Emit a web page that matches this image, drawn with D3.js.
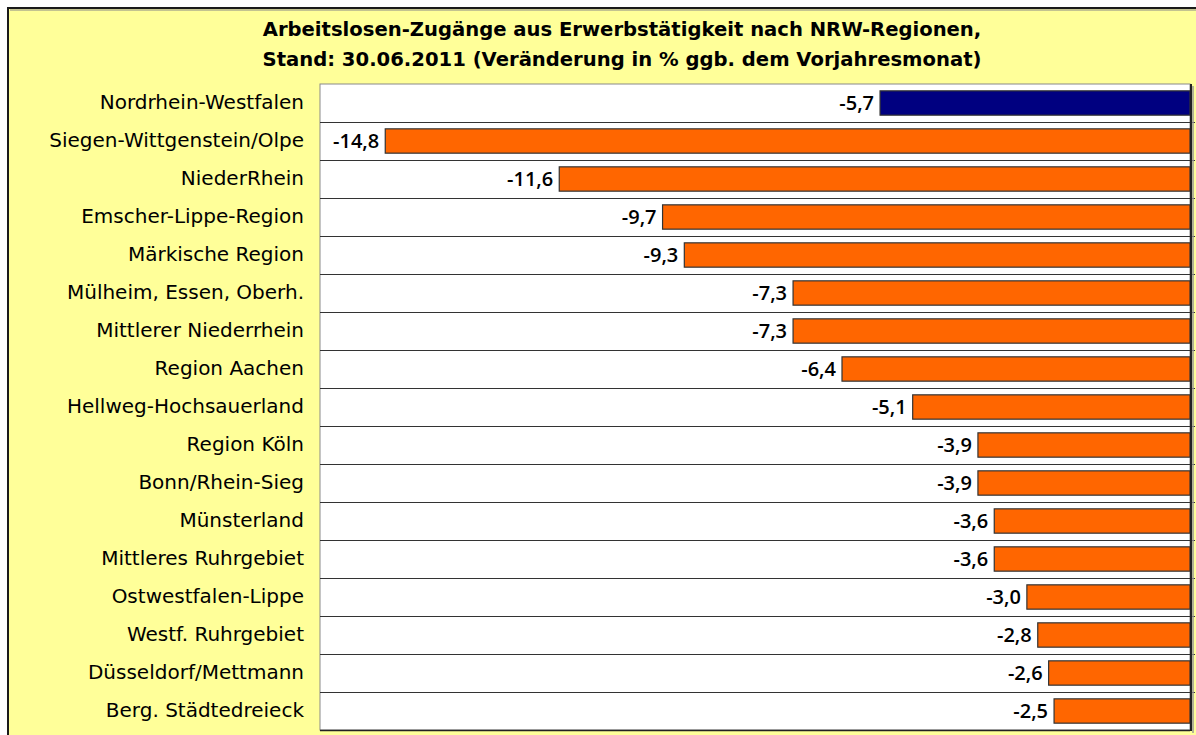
<!DOCTYPE html>
<html>
<head>
<meta charset="utf-8">
<script src="https://cdn.jsdelivr.net/npm/d3@7/dist/d3.min.js"></script>
<style>
  body { margin: 0; background: #fff; }
  svg { display: block; }
  text { font-family: "DejaVu Sans", sans-serif; fill: #000; }
</style>
</head>
<body>
<svg id="chart" width="1196" height="735"></svg>
<script>
const titleLines = [
  "Arbeitslosen-Zugänge aus Erwerbstätigkeit nach NRW-Regionen,",
  "Stand: 30.06.2011 (Veränderung in % ggb. dem Vorjahresmonat)"
];

const regions = [
  "Nordrhein-Westfalen", "Siegen-Wittgenstein/Olpe", "NiederRhein",
  "Emscher-Lippe-Region", "Märkische Region", "Mülheim, Essen, Oberh.",
  "Mittlerer Niederrhein", "Region Aachen", "Hellweg-Hochsauerland",
  "Region Köln", "Bonn/Rhein-Sieg", "Münsterland", "Mittleres Ruhrgebiet",
  "Ostwestfalen-Lippe", "Westf. Ruhrgebiet", "Düsseldorf/Mettmann",
  "Berg. Städtedreieck"
];

const changes = [-5.7, -14.8, -11.6, -9.7, -9.3, -7.3, -7.3, -6.4, -5.1,
  -3.9, -3.9, -3.6, -3.6, -3.0, -2.8, -2.6, -2.5];

const xDomain = [-16, 0];

const svg = d3.select("#chart");

// outer frame
svg.append("rect")
  .attr("x", 8).attr("y", 8)
  .attr("width", 1300).attr("height", 800)
  .attr("fill", "#ffff99")
  .attr("stroke", "#1a1a1a")
  .attr("stroke-width", 2);
svg.append("line")
  .attr("x1", 10).attr("x2", 1196).attr("y1", 10).attr("y2", 10)
  .attr("stroke", "#888").attr("stroke-width", 1);

const plot = { left: 320, right: 1190, top: 84, bottom: 730 };

const x = d3.scaleLinear().domain(xDomain).range([plot.left, plot.right]);
const y = d3.scaleBand().domain(regions)
  .range([plot.top, plot.bottom])
  .paddingInner(0.36).paddingOuter(0.18);

// title
svg.append("text")
  .attr("x", 622).attr("y", 36)
  .attr("text-anchor", "middle")
  .style("font-size", "19.6px")
  .style("font-weight", "bold")
  .selectAll("tspan")
  .data(titleLines)
  .join("tspan")
  .attr("x", 622)
  .attr("dy", (d, i) => i ? 30 : 0)
  .text(d => d);

// plot area
svg.append("rect")
  .attr("x", plot.left).attr("y", plot.top)
  .attr("width", plot.right - plot.left).attr("height", plot.bottom - plot.top)
  .attr("fill", "#fff")
  .attr("stroke", "#8a8a8a");

// row lines
const rowEdges = d3.range(1, regions.length).map(i => plot.top + i * y.step());
svg.append("g").selectAll("line")
  .data(rowEdges)
  .join("line")
  .attr("x1", plot.left).attr("x2", plot.right + 5)
  .attr("y1", d => Math.round(d) + 0.5).attr("y2", d => Math.round(d) + 0.5)
  .attr("stroke", "#333");

svg.append("line")
  .attr("x1", plot.left).attr("x2", plot.right)
  .attr("y1", plot.bottom + 0.5).attr("y2", plot.bottom + 0.5)
  .attr("stroke", "#222").attr("stroke-width", 1.5);

// bars
svg.append("g").selectAll("rect")
  .data(changes)
  .join("rect")
  .attr("x", d => x(d))
  .attr("y", (d, i) => y(regions[i]))
  .attr("width", d => x(0) - x(d))
  .attr("height", y.bandwidth())
  .attr("fill", (d, i) => i === 0 ? "#000080" : "#ff6600")
  .attr("stroke", "#333")
  .attr("stroke-width", 1.2);

// right axis line
svg.append("line")
  .attr("x1", plot.right + 1).attr("x2", plot.right + 1)
  .attr("y1", plot.top).attr("y2", plot.bottom + 1)
  .attr("stroke", "#222").attr("stroke-width", 2);
svg.append("line")
  .attr("x1", plot.right + 3).attr("x2", plot.right + 3)
  .attr("y1", plot.top + 2).attr("y2", plot.bottom + 3)
  .attr("stroke", "#999").attr("stroke-width", 1.5);

// value labels
svg.append("g").selectAll("text")
  .data(changes)
  .join("text")
  .attr("x", d => x(d) - 6)
  .attr("y", (d, i) => y(regions[i]) + y.bandwidth() / 2)
  .attr("dy", "0.36em")
  .attr("text-anchor", "end")
  .style("font-family", "'Open Sans', sans-serif")
  .style("font-size", "20px")
  .style("font-weight", 600)
  .text(d => d3.format(".1f")(d).replace(".", ",").replace("−", "-"));

// category axis
const yAxis = svg.append("g")
  .attr("transform", `translate(${plot.left},0)`)
  .call(d3.axisLeft(y).tickSize(0).tickPadding(16));
yAxis.select(".domain").remove();
yAxis.selectAll("text")
  .style("font-family", "'DejaVu Sans', sans-serif")
  .style("font-size", "20px")
  .attr("fill", "#000");
</script>
</body>
</html>
